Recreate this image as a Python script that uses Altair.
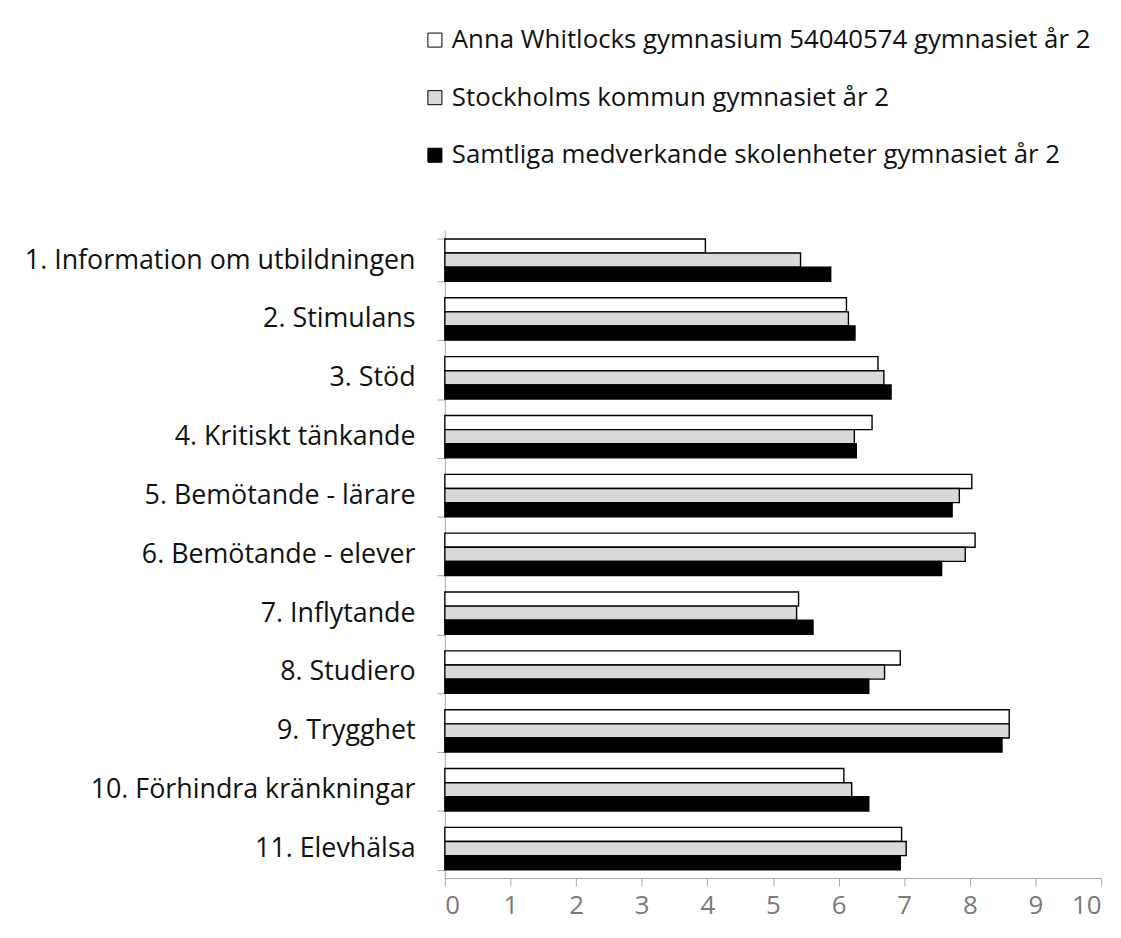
import altair as alt
import pandas as pd

categories = [
    "1. Information om utbildningen",
    "2. Stimulans",
    "3. Stöd",
    "4. Kritiskt tänkande",
    "5. Bemötande - lärare",
    "6. Bemötande - elever",
    "7. Inflytande",
    "8. Studiero",
    "9. Trygghet",
    "10. Förhindra kränkningar",
    "11. Elevhälsa",
]
series = [
    "Anna Whitlocks gymnasium 54040574 gymnasiet år 2",
    "Stockholms kommun gymnasiet år 2",
    "Samtliga medverkande skolenheter gymnasiet år 2",
]
school_vals = [3.97, 6.12, 6.60, 6.51, 8.03, 8.08, 5.39, 6.94, 8.60, 6.08, 6.96]
city_vals = [5.42, 6.15, 6.69, 6.24, 7.84, 7.93, 5.36, 6.70, 8.60, 6.20, 7.03]
all_vals = [5.88, 6.25, 6.80, 6.27, 7.73, 7.57, 5.61, 6.46, 8.49, 6.46, 6.94]
colors = ["white", "#d9d9d9", "black"]
x_ticks = list(range(11))

rows = []
for s, vals in zip(series, [school_vals, city_vals, all_vals]):
    for c, v in zip(categories, vals):
        rows.append({"category": c, "series": s, "value": v})
df = pd.DataFrame(rows)

FONT = "Open Sans"

chart = alt.Chart(df).mark_bar(stroke="black", strokeWidth=1.4).encode(
    y=alt.Y(
        "category:N",
        sort=categories,
        scale=alt.Scale(paddingInner=0.28, paddingOuter=0.14),
        axis=alt.Axis(
            title=None, tickBand="extent", labelFontSize=27, labelFont=FONT,
            labelColor="#111111", labelPadding=22, domainColor="#a6a6a6",
            tickColor="#a6a6a6", tickSize=8, labelLimit=700,
        ),
    ),
    yOffset=alt.YOffset("series:N", sort=series, scale=alt.Scale(paddingInner=0, paddingOuter=0)),
    x=alt.X(
        "value:Q",
        scale=alt.Scale(domain=[0, 10], nice=False),
        axis=alt.Axis(
            title=None, values=x_ticks, grid=False, labelFontSize=26, labelFont=FONT,
            labelColor="#7a7a7a", domainColor="#a6a6a6", tickColor="#a6a6a6",
            tickSize=8, labelPadding=7,
        ),
    ),
    color=alt.Color(
        "series:N",
        sort=series,
        scale=alt.Scale(domain=series, range=colors),
        legend=alt.Legend(
            orient="none", legendX=-23, legendY=-205, direction="vertical",
            title=None, symbolType="square", symbolSize=200,
            symbolStrokeColor="black", symbolStrokeWidth=1,
            labelFontSize=26, labelFont=FONT, labelColor="#111111",
            rowPadding=32, labelOffset=4, labelLimit=800,
        ),
    ),
).properties(
    width=661,
    height=652,
    autosize=alt.AutoSizeParams(type="none"),
    padding={"left": 440, "top": 221, "right": 12, "bottom": 44},
).configure_view(stroke=None)

chart.save("out.html", embed_options={"renderer": "svg", "actions": False})
